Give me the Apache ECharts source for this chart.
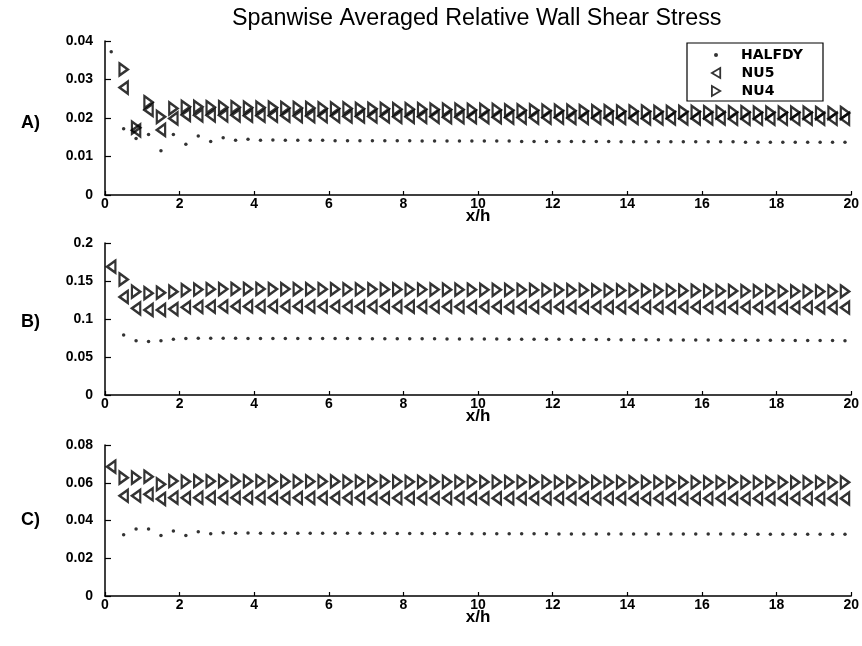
<!DOCTYPE html>
<html><head><meta charset="utf-8">
<script src="https://cdn.jsdelivr.net/npm/echarts@6/dist/echarts.min.js"></script>
<style>html,body{margin:0;padding:0;background:#fff}#c{width:862px;height:646px}</style>
</head><body><div id="c"></div>
<script>
const xPos = [0.167,0.5,0.833,1.167,1.5,1.833,2.167,2.5,2.833,3.167,3.5,3.833,4.167,4.5,4.833,5.167,5.5,5.833,6.167,6.5,6.833,7.167,7.5,7.833,8.167,8.5,8.833,9.167,9.5,9.833,10.167,10.5,10.833,11.167,11.5,11.833,12.167,12.5,12.833,13.167,13.5,13.833,14.167,14.5,14.833,15.167,15.5,15.833,16.167,16.5,16.833,17.167,17.5,17.833,18.167,18.5,18.833,19.167,19.5,19.833];
const xTicks = [0,2,4,6,8,10,12,14,16,18,20];
const seriesNames = ['HALFDY','NU5','NU4'];
const panelLabels = ['A)','B)','C)'];

const A_HALFDY = [0.0372,0.0172,0.0147,0.0157,0.0115,0.0157,0.0132,0.0153,0.0139,0.0149,0.0142,0.0145,0.0142,0.0143,0.0142,
 0.0142,0.0142,0.0142,0.0141,0.0141,0.0141,0.0141,0.0141,0.0141,0.0141,0.0140,0.0140,0.0140,0.0140,0.0140,
 0.0140,0.0140,0.0140,0.0139,0.0139,0.0139,0.0139,0.0139,0.0139,0.0139,0.0139,0.0138,0.0138,0.0138,0.0138,
 0.0138,0.0138,0.0138,0.0138,0.0138,0.0138,0.0137,0.0137,0.0137,0.0137,0.0137,0.0137,0.0137,0.0137,0.0137];
const A_NU5 = [null,0.0279,0.0168,0.0221,0.0169,0.0199,0.0208,0.0207,0.0207,0.0207,0.0207,0.0206,0.0206,0.0206,0.0206,
 0.0205,0.0205,0.0205,0.0205,0.0204,0.0204,0.0204,0.0204,0.0203,0.0203,0.0203,0.0203,0.0202,0.0202,0.0202,
 0.0202,0.0202,0.0201,0.0201,0.0201,0.0201,0.0201,0.0200,0.0200,0.0200,0.0200,0.0200,0.0200,0.0199,0.0199,
 0.0199,0.0199,0.0199,0.0199,0.0199,0.0198,0.0198,0.0198,0.0198,0.0198,0.0198,0.0198,0.0198,0.0198,0.0198];
const A_NU4 = [null,0.0326,0.0175,0.0241,0.0203,0.0225,0.0229,0.0229,0.0228,0.0228,0.0228,0.0227,0.0227,0.0227,0.0226,
 0.0226,0.0226,0.0225,0.0225,0.0225,0.0224,0.0224,0.0224,0.0223,0.0223,0.0223,0.0222,0.0222,0.0222,0.0221,
 0.0221,0.0221,0.0220,0.0220,0.0220,0.0219,0.0219,0.0219,0.0218,0.0218,0.0218,0.0217,0.0217,0.0217,0.0216,
 0.0216,0.0216,0.0216,0.0215,0.0215,0.0215,0.0215,0.0214,0.0214,0.0214,0.0214,0.0214,0.0213,0.0213,0.0213];

const B_HALFDY = [null,0.0790,0.0715,0.0705,0.0715,0.0733,0.0743,0.0746,0.0746,0.0746,0.0746,0.0745,0.0745,0.0745,0.0744,
 0.0744,0.0744,0.0743,0.0743,0.0742,0.0742,0.0741,0.0741,0.0740,0.0740,0.0739,0.0739,0.0738,0.0737,0.0737,
 0.0736,0.0736,0.0735,0.0734,0.0734,0.0733,0.0732,0.0731,0.0731,0.0730,0.0729,0.0728,0.0728,0.0727,0.0726,
 0.0725,0.0725,0.0724,0.0723,0.0722,0.0722,0.0721,0.0720,0.0719,0.0719,0.0718,0.0717,0.0716,0.0716,0.0715];
const B_NU5 = [0.1688,0.1290,0.1140,0.1120,0.1120,0.1130,0.1154,0.1160,0.1163,0.1165,0.1166,0.1166,0.1166,0.1166,0.1165,
 0.1165,0.1165,0.1164,0.1164,0.1164,0.1163,0.1163,0.1163,0.1162,0.1162,0.1162,0.1161,0.1161,0.1161,0.1160,
 0.1160,0.1160,0.1159,0.1159,0.1159,0.1158,0.1158,0.1158,0.1157,0.1157,0.1157,0.1156,0.1156,0.1156,0.1155,
 0.1155,0.1155,0.1155,0.1154,0.1154,0.1154,0.1153,0.1153,0.1153,0.1153,0.1152,0.1152,0.1152,0.1152,0.1151];
const B_NU4 = [null,0.1520,0.1360,0.1340,0.1346,0.1360,0.1380,0.1388,0.1392,0.1394,0.1395,0.1395,0.1395,0.1394,0.1394,
 0.1393,0.1393,0.1392,0.1392,0.1391,0.1391,0.1390,0.1389,0.1389,0.1388,0.1388,0.1387,0.1386,0.1386,0.1385,
 0.1384,0.1384,0.1383,0.1382,0.1382,0.1381,0.1380,0.1379,0.1379,0.1378,0.1377,0.1376,0.1376,0.1375,0.1374,
 0.1373,0.1372,0.1372,0.1371,0.1370,0.1369,0.1368,0.1368,0.1367,0.1366,0.1365,0.1364,0.1363,0.1362,0.1362];

const C_HALFDY = [null,0.0325,0.0355,0.0355,0.0320,0.0345,0.0320,0.0340,0.0330,0.0335,0.0332,0.0334,0.0333,0.0333,0.0333,
 0.0333,0.0333,0.0333,0.0332,0.0332,0.0332,0.0332,0.0332,0.0331,0.0331,0.0331,0.0331,0.0331,0.0331,0.0330,
 0.0330,0.0330,0.0330,0.0330,0.0330,0.0330,0.0329,0.0329,0.0329,0.0329,0.0329,0.0329,0.0329,0.0328,0.0328,
 0.0328,0.0328,0.0328,0.0328,0.0328,0.0328,0.0327,0.0327,0.0327,0.0327,0.0327,0.0327,0.0327,0.0327,0.0327];
const C_NU5 = [0.0685,0.0531,0.0531,0.0539,0.0514,0.0521,0.0520,0.0521,0.0521,0.0521,0.0521,0.0521,0.0521,0.0521,0.0520,
 0.0520,0.0520,0.0520,0.0520,0.0520,0.0520,0.0519,0.0519,0.0519,0.0519,0.0519,0.0519,0.0519,0.0519,0.0519,
 0.0518,0.0518,0.0518,0.0518,0.0518,0.0518,0.0518,0.0518,0.0518,0.0518,0.0518,0.0518,0.0517,0.0517,0.0517,
 0.0517,0.0517,0.0517,0.0517,0.0517,0.0517,0.0517,0.0517,0.0517,0.0517,0.0517,0.0517,0.0517,0.0517,0.0517];
const C_NU4 = [null,0.0627,0.0627,0.0632,0.0592,0.0609,0.0606,0.0609,0.0608,0.0608,0.0608,0.0608,0.0608,0.0607,0.0607,
 0.0607,0.0607,0.0607,0.0607,0.0606,0.0606,0.0606,0.0606,0.0606,0.0605,0.0605,0.0605,0.0605,0.0605,0.0605,
 0.0604,0.0604,0.0604,0.0604,0.0604,0.0604,0.0603,0.0603,0.0603,0.0603,0.0603,0.0603,0.0603,0.0603,0.0603,
 0.0602,0.0602,0.0602,0.0602,0.0602,0.0602,0.0602,0.0602,0.0602,0.0602,0.0602,0.0602,0.0602,0.0602,0.0602];

const yMax = [0.04, 0.2, 0.08];
const yInterval = [0.01, 0.05, 0.02];
const panels = [[A_HALFDY, A_NU5, A_NU4],[B_HALFDY, B_NU5, B_NU4],[C_HALFDY, C_NU5, C_NU4]];

const FONT = 'Liberation Sans, Arial, Helvetica, sans-serif';
const LFONT = 'DejaVu Sans, Liberation Sans, sans-serif';
const LEFT_TRI = 'path://M10,0 L0,6 L10,12 Z';
const RIGHT_TRI = 'path://M0,0 L10,6 L0,12 Z';
const gridTops = [41, 243, 445];
const gridHeights = [154, 152, 151];
const labelTops = [114, 313, 511];

function pts(arr){ const out=[]; for(let i=0;i<xPos.length;i++){ if(arr[i]!=null) out.push([xPos[i],arr[i]]); } return out; }

const grids=[], xAxes=[], yAxes=[], series=[];
for(let p=0;p<3;p++){
  grids.push({left:105, right:10, top:gridTops[p], height:gridHeights[p]});
  xAxes.push({type:'value', gridIndex:p, min:0, max:20, interval:2,
    name:'x/h', nameLocation:'middle', nameGap:13, nameMoveOverlap:false,
    nameTextStyle:{fontFamily:FONT, fontWeight:'bold', fontSize:17, color:'#000', verticalAlign:'top'},
    axisLine:{show:true, lineStyle:{color:'#000', width:1.5}},
    axisTick:{show:true, inside:true, length:4, lineStyle:{color:'#000', width:1.2}},
    axisLabel:{fontFamily:FONT, fontWeight:'bold', fontSize:14, color:'#000', margin:2},
    splitLine:{show:false}});
  yAxes.push({type:'value', gridIndex:p, min:0, max:yMax[p], interval:yInterval[p],
    axisLine:{show:true, lineStyle:{color:'#000', width:1.5}},
    axisTick:{show:true, inside:true, length:6, lineStyle:{color:'#000', width:1.2}},
    axisLabel:{fontFamily:FONT, fontWeight:'bold', fontSize:14, color:'#000', margin:12},
    splitLine:{show:false}});
  const d = panels[p];
  series.push({name:seriesNames[0], type:'scatter', xAxisIndex:p, yAxisIndex:p, data:pts(d[0]),
    symbol:'circle', symbolSize:3.5, itemStyle:{color:'#000'}, z:3});
  series.push({name:seriesNames[1], type:'scatter', xAxisIndex:p, yAxisIndex:p, data:pts(d[1]),
    symbol:LEFT_TRI, symbolSize:[10,12], symbolKeepAspect:true,
    itemStyle:{color:'rgba(255,255,255,0)', borderColor:'#000', borderWidth:2.4}, z:2});
  series.push({name:seriesNames[2], type:'scatter', xAxisIndex:p, yAxisIndex:p, data:pts(d[2]),
    symbol:RIGHT_TRI, symbolSize:[10,12], symbolKeepAspect:true,
    itemStyle:{color:'rgba(255,255,255,0)', borderColor:'#000', borderWidth:2.4}, z:2});
}

const titles=[{text:'Spanwise Averaged Relative Wall Shear Stress', left:232, top:7, padding:0,
  textStyle:{fontFamily:FONT, fontWeight:'normal', fontSize:23.3, color:'#000'}}];
for(let p=0;p<3;p++){
  titles.push({text:panelLabels[p], left:21, top:labelTops[p], padding:0,
    textStyle:{fontFamily:FONT, fontWeight:'bold', fontSize:18, color:'#000'}});
}

const chart = echarts.init(document.getElementById('c'), null, {renderer:'canvas'});
chart.setOption({
  animation:false,
  backgroundColor:'#fff',
  title:titles,
  grid:grids, xAxis:xAxes, yAxis:yAxes, series:series,
  legend:[
    {data:[seriesNames[0]], orient:'vertical', left:714, top:48, padding:0, itemWidth:4, itemHeight:4,
      selectedMode:false, textStyle:{fontFamily:LFONT, fontWeight:'bold', fontSize:14, color:'#000', lineHeight:14, padding:[0,0,0,18]}},
    {data:[seriesNames[1], seriesNames[2]], orient:'vertical', left:711, top:66, padding:0, itemWidth:9, itemHeight:10, itemGap:4,
      selectedMode:false, itemStyle:{borderWidth:1.8},
      textStyle:{fontFamily:LFONT, fontWeight:'bold', fontSize:14, color:'#000', lineHeight:14, padding:[0,0,0,16]}}
  ],
  graphic:[{type:'rect', shape:{x:687, y:43, width:136, height:58}, style:{fill:'#fff', stroke:'#000', lineWidth:1.2}, z:-1}]
});
</script></body></html>
